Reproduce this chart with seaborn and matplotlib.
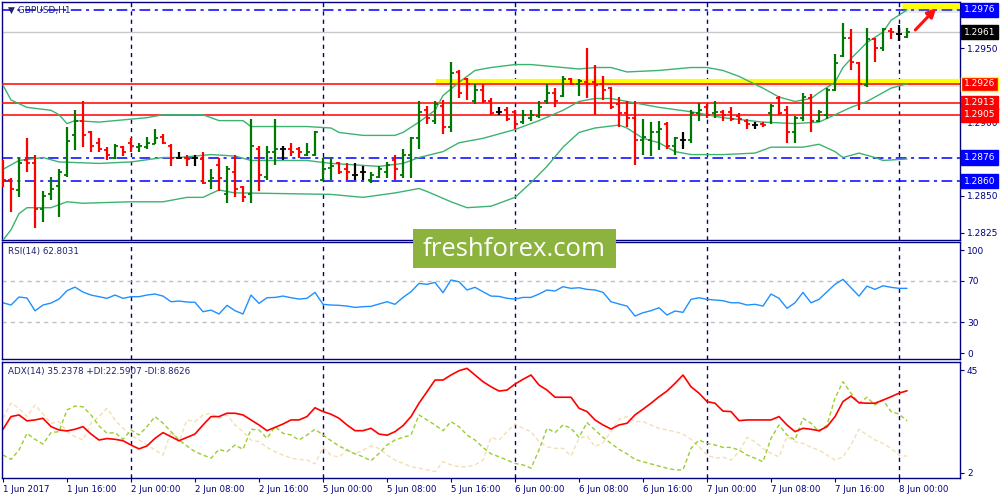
import numpy as np
import pandas as pd
import matplotlib.pyplot as plt
import matplotlib.transforms as mtransforms
from matplotlib.patches import Rectangle
import seaborn as sns

sns.set_theme(style="white")
plt.rcParams['font.family'] = ['DejaVu Sans']

# ---- GBPUSD H1 bars (1 Jun 08:00 .. 8 Jun 01:00) ----
opens = [1.2862, 1.2861, 1.2854, 1.2874, 1.2872, 1.2841, 1.2851, 1.2857, 1.2864, 1.2891,
         1.2901, 1.2893, 1.2886, 1.2881, 1.2876, 1.2883, 1.2886, 1.2883, 1.2883, 1.2885,
         1.2890, 1.2884, 1.2876, 1.2876, 1.2876, 1.2875, 1.2860, 1.2871, 1.2851, 1.2866,
         1.2856, 1.2851, 1.2882, 1.2863, 1.2880, 1.2882, 1.2882, 1.2882, 1.2878, 1.2878,
         1.2861, 1.2869, 1.2872, 1.2868, 1.2864, 1.2866, 1.2861, 1.2863, 1.2866, 1.2874,
         1.2864, 1.2878, 1.2889, 1.2908, 1.2901, 1.2911, 1.2897, 1.2934, 1.2929, 1.2914,
         1.2922, 1.2914, 1.2907, 1.2908, 1.2907, 1.2900, 1.2903, 1.2904, 1.2914, 1.2920,
         1.2918, 1.2929, 1.2926, 1.2927, 1.2927, 1.2926, 1.2923, 1.2912, 1.2906, 1.2903,
         1.2888, 1.2888, 1.2893, 1.2899, 1.2884, 1.2888, 1.2888, 1.2906, 1.2910, 1.2906,
         1.2907, 1.2907, 1.2904, 1.2901, 1.2898, 1.2899, 1.2906, 1.2916, 1.2908, 1.2893,
         1.2903, 1.2916, 1.2901, 1.2905, 1.2922, 1.2945, 1.2957, 1.2940, 1.2925, 1.2956,
         1.2950, 1.2962, 1.2960, 1.2958]
highs = [1.2874, 1.2862, 1.2876, 1.2889, 1.2878, 1.2853, 1.2863, 1.2868, 1.2897, 1.2908,
         1.2914, 1.2894, 1.2889, 1.2883, 1.2885, 1.2884, 1.2889, 1.2886, 1.2890, 1.2895,
         1.2892, 1.2885, 1.2880, 1.2878, 1.2878, 1.2880, 1.2868, 1.2876, 1.2870, 1.2878,
         1.2857, 1.2902, 1.2884, 1.2884, 1.2902, 1.2884, 1.2886, 1.2883, 1.2886, 1.2894,
         1.2876, 1.2876, 1.2873, 1.2872, 1.2872, 1.2870, 1.2866, 1.2870, 1.2873, 1.2878,
         1.2882, 1.2890, 1.2914, 1.2911, 1.2914, 1.2915, 1.2941, 1.2935, 1.2930, 1.2926,
         1.2926, 1.2916, 1.2910, 1.2910, 1.2908, 1.2908, 1.2908, 1.2914, 1.2926, 1.2923,
         1.2931, 1.2930, 1.2929, 1.2950, 1.2939, 1.2931, 1.2924, 1.2917, 1.2914, 1.2914,
         1.2902, 1.2900, 1.2901, 1.2900, 1.2890, 1.2893, 1.2908, 1.2913, 1.2912, 1.2914,
         1.2908, 1.2910, 1.2906, 1.2902, 1.2900, 1.2900, 1.2912, 1.2918, 1.2911, 1.2904,
         1.2920, 1.2919, 1.2908, 1.2923, 1.2946, 1.2967, 1.2963, 1.2941, 1.2964, 1.2957,
         1.2964, 1.2964, 1.2966, 1.2964]
lows = [1.2856, 1.2839, 1.2849, 1.2866, 1.2828, 1.2832, 1.2847, 1.2836, 1.2863, 1.2881,
        1.2883, 1.2880, 1.2880, 1.2874, 1.2875, 1.2877, 1.2880, 1.2880, 1.2882, 1.2885,
        1.2885, 1.2870, 1.2875, 1.2870, 1.2870, 1.2858, 1.2855, 1.2853, 1.2845, 1.2849,
        1.2846, 1.2845, 1.2853, 1.2861, 1.2871, 1.2874, 1.2877, 1.2876, 1.2877, 1.2877,
        1.2860, 1.2861, 1.2865, 1.2861, 1.2861, 1.2861, 1.2859, 1.2862, 1.2862, 1.2861,
        1.2862, 1.2862, 1.2882, 1.2899, 1.2899, 1.2892, 1.2893, 1.2916, 1.2915, 1.2912,
        1.2913, 1.2905, 1.2905, 1.2901, 1.2895, 1.2899, 1.2901, 1.2903, 1.2912, 1.2910,
        1.2917, 1.2925, 1.2918, 1.2916, 1.2905, 1.2915, 1.2909, 1.2897, 1.2897, 1.2871,
        1.2878, 1.2877, 1.2881, 1.2882, 1.2878, 1.2882, 1.2886, 1.2901, 1.2903, 1.2903,
        1.2901, 1.2901, 1.2899, 1.2895, 1.2895, 1.2897, 1.2899, 1.2905, 1.2886, 1.2886,
        1.2901, 1.2893, 1.2900, 1.2902, 1.2921, 1.2944, 1.2935, 1.2908, 1.2924, 1.2941,
        1.2948, 1.2956, 1.2955, 1.2957]
closes = [1.2861, 1.2855, 1.2872, 1.2872, 1.2841, 1.2850, 1.2855, 1.2866, 1.2887, 1.2901,
          1.2891, 1.2884, 1.2882, 1.2878, 1.2884, 1.2880, 1.2884, 1.2884, 1.2886, 1.2889,
          1.2886, 1.2876, 1.2876, 1.2875, 1.2876, 1.2859, 1.2862, 1.2862, 1.2868, 1.2855,
          1.2849, 1.2884, 1.2864, 1.2880, 1.2882, 1.2882, 1.2880, 1.2880, 1.2880, 1.2893,
          1.2868, 1.2870, 1.2866, 1.2866, 1.2864, 1.2866, 1.2864, 1.2868, 1.2871, 1.2868,
          1.2878, 1.2889, 1.2907, 1.2903, 1.2912, 1.2897, 1.2933, 1.2920, 1.2926, 1.2922,
          1.2914, 1.2906, 1.2907, 1.2902, 1.2899, 1.2905, 1.2905, 1.2910, 1.2920, 1.2914,
          1.2929, 1.2926, 1.2928, 1.2926, 1.2925, 1.2922, 1.2910, 1.2906, 1.2903, 1.2888,
          1.2890, 1.2893, 1.2895, 1.2884, 1.2889, 1.2888, 1.2906, 1.2908, 1.2905, 1.2907,
          1.2905, 1.2902, 1.2902, 1.2899, 1.2898, 1.2898, 1.2911, 1.2906, 1.2893, 1.2903,
          1.2917, 1.2901, 1.2907, 1.2922, 1.2940, 1.2957, 1.2941, 1.2926, 1.2956, 1.2950,
          1.2963, 1.2961, 1.2960, 1.2961]

# ---- Bollinger bands (read at selected bars) ----
bb_up_idx = [0, 1, 3, 6, 7, 8, 9, 12, 16, 18, 20, 25, 26, 27, 30, 31, 34, 38, 41, 42, 45, 49,
             50, 52, 54, 55, 57, 59, 61, 64, 66, 70, 72, 74, 76, 78, 82, 86, 88, 90, 92, 95,
             97, 99, 101, 102, 104, 105, 106, 108, 110, 111, 113]
bb_up = [1.2925, 1.2915, 1.2910, 1.2908, 1.2905, 1.2899, 1.2901, 1.2900, 1.2902, 1.2903,
         1.2905, 1.2905, 1.2903, 1.2901, 1.2901, 1.2897, 1.2897, 1.2897, 1.2896, 1.2893,
         1.2891, 1.2891, 1.2893, 1.2900, 1.2908, 1.2918, 1.2927, 1.2935, 1.2937, 1.2939,
         1.2939, 1.2937, 1.2936, 1.2937, 1.2937, 1.2934, 1.2935, 1.2937, 1.2937, 1.2935,
         1.2931, 1.2923, 1.2917, 1.2914, 1.2916, 1.2920, 1.2927, 1.2937, 1.2943, 1.2954,
         1.2961, 1.2969, 1.2976]
bb_mid_idx = [0, 2, 5, 7, 12, 16, 20, 22, 26, 29, 31, 38, 41, 47, 50, 52, 55, 57, 60, 64,
              67, 70, 72, 74, 76, 78, 80, 82, 86, 90, 95, 99, 102, 104, 106, 108, 111, 113]
bb_mid = [1.2868, 1.2874, 1.2876, 1.2873, 1.2872, 1.2873, 1.2876, 1.2876, 1.2878, 1.2877,
          1.2874, 1.2874, 1.2872, 1.2870, 1.2872, 1.2876, 1.2880, 1.2886, 1.2889, 1.2895,
          1.2901, 1.2908, 1.2914, 1.2916, 1.2916, 1.2914, 1.2912, 1.2910, 1.2907, 1.2903,
          1.2900, 1.2899, 1.2900, 1.2905, 1.2910, 1.2914, 1.2923, 1.2926]
bb_low_idx = [0, 1, 2, 3, 5, 6, 8, 10, 16, 20, 23, 25, 27, 29, 30, 41, 45, 49, 52, 53, 56,
              58, 61, 64, 66, 68, 70, 72, 74, 77, 78, 80, 82, 84, 86, 90, 94, 96, 100, 102,
              104, 105, 107, 109, 110, 113]
bb_low = [1.2820, 1.2827, 1.2838, 1.2842, 1.2842, 1.2842, 1.2846, 1.2845, 1.2846, 1.2846,
          1.2849, 1.2849, 1.2854, 1.2852, 1.2852, 1.2851, 1.2849, 1.2852, 1.2855, 1.2853,
          1.2846, 1.2842, 1.2843, 1.2849, 1.2859, 1.2870, 1.2883, 1.2893, 1.2896, 1.2898,
          1.2896, 1.2889, 1.2886, 1.2880, 1.2878, 1.2878, 1.2879, 1.2883, 1.2883, 1.2885,
          1.2880, 1.2876, 1.2879, 1.2876, 1.2874, 1.2875]

# ---- RSI(14) ----
rsi = [48.8, 46.6, 54.4, 53.4, 41.0, 46.6, 48.5, 52.4, 60.5, 64.0, 59.2, 56.3, 54.7, 53.1,
       56.3, 53.1, 54.7, 54.7, 56.3, 57.3, 55.3, 49.8, 50.5, 49.5, 49.2, 40.1, 41.7, 37.9,
       46.3, 41.1, 37.9, 56.3, 48.2, 53.7, 54.0, 55.3, 53.7, 52.4, 53.1, 58.9, 47.3, 46.6,
       46.3, 45.6, 44.3, 45.0, 45.3, 47.6, 49.8, 47.3, 54.0, 59.5, 67.6, 66.7, 68.6, 58.6,
       70.9, 69.2, 61.2, 63.8, 59.5, 55.3, 55.0, 53.1, 52.4, 54.0, 54.0, 57.3, 61.2, 60.2,
       64.4, 62.8, 63.4, 61.8, 61.2, 58.9, 49.8, 47.6, 45.6, 35.9, 39.1, 41.1, 44.0, 36.9,
       40.8, 39.5, 52.1, 53.7, 52.1, 51.5, 50.8, 48.8, 48.8, 46.6, 47.3, 45.6, 57.3, 53.1,
       43.4, 48.8, 58.9, 48.8, 52.1, 59.5, 66.7, 71.5, 63.4, 55.3, 65.0, 61.8, 65.3, 63.8,
       62.8, 62.8]

# ---- ADX(14), +DI, -DI ----
adx = [20.2, 25.5, 26.2, 23.7, 24.1, 24.8, 21.3, 19.9, 19.5, 20.2, 21.3, 18.2, 15.7, 16.3,
       16.0, 15.4, 13.6, 12.0, 13.2, 16.4, 18.8, 17.1, 15.4, 16.8, 18.2, 22.0, 25.5, 25.5,
       26.9, 26.9, 26.2, 24.1, 22.0, 19.6, 21.0, 22.4, 24.1, 24.1, 25.5, 29.2, 27.6, 26.5,
       24.8, 22.0, 19.6, 19.6, 20.6, 18.2, 17.7, 19.2, 21.7, 25.5, 31.1, 35.9, 40.8, 40.8,
       42.9, 44.7, 45.7, 42.9, 40.1, 38.0, 36.2, 36.6, 39.1, 41.1, 42.9, 38.7, 36.6, 33.6,
       33.6, 33.6, 29.0, 27.6, 24.1, 22.0, 20.3, 22.0, 22.7, 26.2, 28.6, 31.1, 33.8, 36.2,
       39.4, 42.9, 38.0, 35.3, 31.8, 31.1, 27.8, 27.6, 23.8, 24.1, 24.1, 24.1, 24.1, 25.5,
       22.0, 19.2, 20.6, 20.2, 19.6, 21.3, 25.5, 31.8, 34.1, 31.3, 31.1, 31.1, 32.4, 33.8,
       35.3, 36.3]
plus_di = [9.4, 7.6, 11.5, 18.5, 16.0, 14.0, 18.8, 19.2, 28.3, 29.9, 29.6, 26.2, 21.6, 18.5,
           18.8, 16.0, 19.9, 17.8, 21.3, 25.5, 22.7, 19.2, 15.7, 13.2, 10.8, 9.4, 8.1, 11.8,
           10.8, 13.6, 11.8, 20.2, 19.9, 16.4, 21.3, 18.5, 17.8, 15.7, 17.8, 20.2, 17.8, 15.4,
           13.2, 11.5, 9.9, 8.7, 7.0, 10.1, 13.6, 15.7, 16.8, 17.8, 26.2, 24.1, 22.0, 19.6,
           23.4, 21.3, 17.8, 15.7, 12.6, 9.9, 8.7, 7.3, 5.9, 5.3, 3.9, 11.5, 20.6, 18.8,
           22.0, 20.6, 16.8, 23.0, 19.9, 16.8, 14.3, 11.8, 9.9, 7.6, 6.6, 5.7, 4.8, 3.9,
           3.2, 3.2, 12.2, 15.7, 14.3, 13.6, 12.6, 12.6, 11.5, 9.4, 8.1, 6.6, 16.4, 22.0,
           17.8, 15.7, 24.8, 22.7, 19.2, 22.0, 33.2, 40.1, 35.3, 31.1, 33.6, 30.4, 32.4, 27.6,
           26.6, 23.7]
minus_di = [24.8, 31.1, 29.0, 25.5, 30.4, 26.6, 22.7, 23.4, 19.2, 17.1, 15.7, 22.7, 25.5, 29.0,
            24.1, 20.6, 17.8, 15.7, 13.6, 11.5, 9.4, 19.2, 15.0, 24.1, 23.4, 26.2, 26.9, 24.8,
            26.2, 22.0, 19.2, 15.7, 15.0, 12.6, 10.8, 9.4, 8.1, 7.6, 7.3, 5.7, 12.6, 9.4,
            8.5, 11.8, 9.9, 11.5, 13.2, 12.2, 9.4, 7.3, 5.9, 4.5, 3.9, 3.2, 2.5, 6.6,
            5.3, 4.5, 4.5, 5.3, 7.3, 16.8, 15.7, 19.2, 22.4, 20.6, 19.2, 15.0, 12.9, 12.2,
            12.2, 9.0, 16.4, 17.4, 12.9, 14.6, 19.2, 24.4, 25.5, 23.4, 23.4, 22.0, 20.6, 19.9,
            19.2, 18.2, 16.0, 12.9, 9.4, 8.1, 8.5, 7.3, 10.8, 16.8, 15.0, 12.2, 10.1, 8.7,
            17.1, 15.0, 14.3, 12.6, 11.5, 9.4, 7.3, 8.7, 13.6, 20.2, 17.8, 15.7, 14.3, 12.2,
            9.4, 8.9]

time_ticks = [0, 8, 16, 24, 32, 40, 48, 56, 64, 72, 80, 88, 96, 104, 112]
time_labels = ['1 Jun 2017', '1 Jun 16:00', '2 Jun 00:00', '2 Jun 08:00', '2 Jun 16:00',
               '5 Jun 00:00', '5 Jun 08:00', '5 Jun 16:00', '6 Jun 00:00', '6 Jun 08:00',
               '6 Jun 16:00', '7 Jun 00:00', '7 Jun 08:00', '7 Jun 16:00', '8 Jun 00:00']
day_starts = [16, 40, 64, 88, 112]

red_levels = [1.2926, 1.2913, 1.2905]
blue_levels = [1.2976, 1.2876, 1.2860]
last_price = 1.2961

NAVY = '#000080'
bars = np.arange(len(opens))
df = pd.DataFrame({'bar': bars, 'open': opens, 'high': highs, 'low': lows, 'close': closes})
df['color'] = np.where(df.close > df.open, '#007800', np.where(df.close < df.open, '#FF0000', '#000000'))

fig = plt.figure(figsize=(10, 5), dpi=100)
ax1 = fig.add_axes([0.002, 0.52, 0.958, 0.476])
ax2 = fig.add_axes([0.002, 0.282, 0.958, 0.234])
ax3 = fig.add_axes([0.002, 0.044, 0.958, 0.232])

for ax in (ax1, ax2, ax3):
    ax.set_facecolor('white')
    ax.set_xlim(-0.125, 119.625)
    for s in ax.spines.values():
        s.set_color(NAVY)
        s.set_linewidth(1)
    ax.yaxis.tick_right()
    ax.tick_params(axis='y', direction='out', length=3, width=0.8, colors=NAVY,
                   labelsize=6.5, pad=2, right=True, left=False)
    ax.tick_params(axis='x', bottom=False, labelbottom=False)
    ax.set_xlabel('')
    ax.set_ylabel('')
    for d in day_starts:
        ax.axvline(d, color=NAVY, lw=1, ls=(0, (3, 3)), zorder=1)

# ---- main price panel ----
ax1.set_ylim(1.28201, 1.29814)
ax1.axhline(last_price, color='#C8C8C8', lw=1, zorder=1)
for lv in blue_levels:
    ax1.axhline(lv, color='#0000FF', lw=1.1, ls=(0, (7, 3, 2, 3)), zorder=2)
# yellow highlights with soft shadow
ax1.hlines(1.29262, 54.1, 119.6, color='#909090', alpha=0.2, lw=5, zorder=2)
ax1.hlines(1.29278, 54.1, 119.6, color='#FFFF00', lw=3, zorder=3)
ax1.hlines(1.29768, 112.4, 119.6, color='#909090', alpha=0.2, lw=5, zorder=2)
ax1.hlines(1.29785, 112.4, 119.6, color='#FFFF00', lw=3.5, zorder=3)
for lv in red_levels:
    ax1.axhline(lv, color='#FF0000', lw=1.1, zorder=3)

sns.lineplot(x=bb_up_idx, y=bb_up, ax=ax1, color='#3CB371', lw=1, errorbar=None, zorder=4)
sns.lineplot(x=bb_mid_idx, y=bb_mid, ax=ax1, color='#3CB371', lw=1, errorbar=None, zorder=4)
sns.lineplot(x=bb_low_idx, y=bb_low, ax=ax1, color='#3CB371', lw=1, errorbar=None, zorder=4)

ax1.vlines(df.bar, df.low, df.high, colors=df.color, lw=1.6, zorder=5)
ax1.hlines(df.open, df.bar - 0.38, df.bar, colors=df.color, lw=1.3, zorder=5)
ax1.hlines(df.close, df.bar, df.bar + 0.38, colors=df.color, lw=1.3, zorder=5)

ax1.annotate('', xy=(116.9, 1.29787), xytext=(113.8, 1.29611),
             arrowprops=dict(arrowstyle='-|>', color='#FF1010', lw=2.2, mutation_scale=13),
             zorder=6)

ax1.set_yticks([1.2825, 1.2850, 1.2900, 1.2950])
ax1.set_yticklabels(['1.2825', '1.2850', '1.2900', '1.2950'])
trans1 = mtransforms.blended_transform_factory(ax1.transAxes, ax1.transData)
boxes = [(1.2976, '#0000FF'), (last_price, '#000000'), (1.2926, '#FF0000'),
         (1.2913, '#FF0000'), (1.2905, '#FF0000'), (1.2876, '#0000FF'), (1.2860, '#0000FF')]
for val, fc in boxes:
    ec = '#FFFF00' if val == 1.2926 else fc
    ax1.text(1.004, val, f'{val:.4f}', transform=trans1, ha='left', va='center',
             fontsize=6.5, color='white', clip_on=False, zorder=10,
             bbox=dict(boxstyle='square,pad=0.3', fc=fc, ec=ec, lw=1))
ax1.text(0.006, 0.965, '\u25BC GBPUSD,H1', transform=ax1.transAxes, ha='left', va='center',
         fontsize=6.5, color='#202070')

# ---- RSI panel ----
ax2.set_ylim(-5.8, 107.8)
for lv in (70, 30):
    ax2.axhline(lv, color='#C0C0C0', lw=1, ls=(0, (3, 3)))
sns.lineplot(x=bars, y=rsi, ax=ax2, color='#1E90FF', lw=1, errorbar=None)
ax2.set_yticks([0, 30, 70, 100])
ax2.set_yticklabels(['0', '30', '70', '100'])
ax2.text(0.006, 0.915, 'RSI(14) 62.8031', transform=ax2.transAxes, ha='left', va='center',
         fontsize=6.3, color='#202070')

# ---- ADX panel ----
ax3.set_ylim(-0.2, 48.35)
sns.lineplot(x=bars, y=minus_di, ax=ax3, color='#F5DEB3', lw=1, ls=(0, (3, 2)), errorbar=None)
sns.lineplot(x=bars, y=plus_di, ax=ax3, color='#9ACD32', lw=1, ls=(0, (3, 2)), errorbar=None)
sns.lineplot(x=bars, y=adx, ax=ax3, color='#FF0000', lw=1.2, errorbar=None)
ax3.set_yticks([2, 45])
ax3.set_yticklabels(['2', '45'])
ax3.text(0.006, 0.914, 'ADX(14) 35.2378 +DI:22.5907 -DI:8.8626', transform=ax3.transAxes,
         ha='left', va='center', fontsize=6.3, color='#202070')

ax3.set_xticks(time_ticks)
ax3.set_xticklabels(time_labels, ha='left')
ax3.tick_params(axis='x', bottom=True, labelbottom=True, direction='out', length=3,
                width=0.8, colors=NAVY, labelsize=6.2, pad=2)
for lbl in ax3.get_xticklabels():
    lbl.set_horizontalalignment('left')

# ---- watermark ----
fig.patches.append(Rectangle((0.413, 0.464), 0.203, 0.078, transform=fig.transFigure,
                             fc='#8DB33F', ec='none', zorder=20))
fig.text(0.5145, 0.501, 'freshforex.com', ha='center', va='center', color='white',
         fontsize=18.5, family=['Open Sans', 'DejaVu Sans'], zorder=21)

fig.savefig('out.png', dpi=100, facecolor='white')
